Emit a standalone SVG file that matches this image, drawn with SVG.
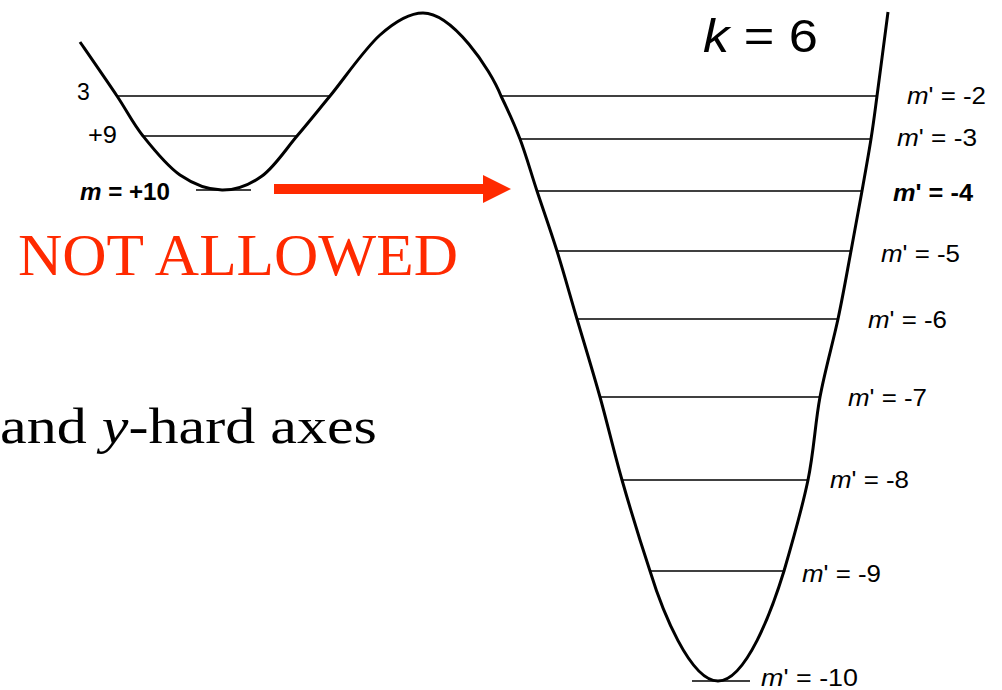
<svg xmlns="http://www.w3.org/2000/svg" width="1002" height="690" viewBox="0 0 1002 690">
<style>
.curve{fill:none;stroke:#000;stroke-width:3;stroke-linejoin:round}
.lvl{stroke:#000;stroke-width:1.5}
.lab{font-family:"Liberation Sans",Arial,sans-serif;font-size:23px;fill:#000}
.b{font-weight:bold}
.red{fill:#FF2A00}
.serif{font-family:"Liberation Serif","Times New Roman",serif}
</style>
<rect width="1002" height="690" fill="#fff"/>
<g id="potential">
<path class="curve" d="M80,42 C86.2,51 106.5,80.3 117,96 C127.5,111.7 132.5,122.8 143,136 C153.5,149.2 166.8,166 180,175 C193.2,184 208.3,189.8 222,190 C235.7,190.2 249.5,185 262,176 C274.5,167 285.7,149.3 297,136 C308.3,122.7 316.2,112.8 330,96 C343.8,79.2 364.5,48.8 380,35 C395.5,21.2 411,13 423,13 C452,13 490,68 501,96 C507.7,109.7 514,123.2 520,139 C526,154.8 530.8,172.3 537,191 C543.2,209.7 550.3,229.7 557,251 C563.7,272.3 569.8,294.7 577,319 C584.2,343.3 592.5,370.2 600,397 C607.5,423.8 613.7,451 622,480 C630.3,509 642.3,547.7 650,571 C662,610 690,681 718,681 C746,681 772,610 784,571 C790.8,547.7 802,509 808,480 C814,451 815,423.8 820,397 C825,370.2 832.8,343.3 838,319 C843.2,294.7 847,272.3 851,251 C855,229.7 858.7,209.7 862,191 C865.3,172.3 868.5,154.8 871,139 C873.5,123.2 874.2,117.2 877,96 C879.8,74.8 886.2,26 888,12"/>
</g>
<g id="levels-left">
<line class="lvl" x1="117" y1="96" x2="330" y2="96"/>
<line class="lvl" x1="143" y1="136" x2="297" y2="136"/>
<line class="lvl" x1="196" y1="190" x2="251" y2="190"/>
</g>
<g id="levels-right">
<line class="lvl" x1="501" y1="96" x2="877" y2="96"/>
<line class="lvl" x1="520" y1="139" x2="871" y2="139"/>
<line class="lvl" x1="537" y1="191" x2="862" y2="191"/>
<line class="lvl" x1="557" y1="251" x2="851" y2="251"/>
<line class="lvl" x1="577" y1="319" x2="838" y2="319"/>
<line class="lvl" x1="600" y1="397" x2="820" y2="397"/>
<line class="lvl" x1="622" y1="480" x2="808" y2="480"/>
<line class="lvl" x1="650" y1="571" x2="784" y2="571"/>
<line class="lvl" x1="692" y1="681" x2="750" y2="681"/>
</g>
<g id="labels-left">
<text class="lab" x="77" y="100">3</text>
<text class="lab" x="88" y="143" textLength="29" lengthAdjust="spacingAndGlyphs">+9</text>
<text class="lab b" x="80" y="200" textLength="90" lengthAdjust="spacingAndGlyphs"><tspan font-style="italic">m</tspan> = +10</text>
</g>
<g id="labels-right">
<text class="lab" x="907" y="104" textLength="79" lengthAdjust="spacingAndGlyphs"><tspan font-style="italic">m</tspan>' = -2</text>
<text class="lab" x="897" y="146" textLength="80" lengthAdjust="spacingAndGlyphs"><tspan font-style="italic">m</tspan>' = -3</text>
<text class="lab b" x="893" y="201" textLength="80" lengthAdjust="spacingAndGlyphs"><tspan font-style="italic">m</tspan>' = -4</text>
<text class="lab" x="881" y="262" textLength="79" lengthAdjust="spacingAndGlyphs"><tspan font-style="italic">m</tspan>' = -5</text>
<text class="lab" x="868" y="328" textLength="79" lengthAdjust="spacingAndGlyphs"><tspan font-style="italic">m</tspan>' = -6</text>
<text class="lab" x="848" y="406" textLength="79" lengthAdjust="spacingAndGlyphs"><tspan font-style="italic">m</tspan>' = -7</text>
<text class="lab" x="830" y="488" textLength="79" lengthAdjust="spacingAndGlyphs"><tspan font-style="italic">m</tspan>' = -8</text>
<text class="lab" x="802" y="582" textLength="79" lengthAdjust="spacingAndGlyphs"><tspan font-style="italic">m</tspan>' = -9</text>
<text class="lab" x="761" y="686" textLength="97" lengthAdjust="spacingAndGlyphs"><tspan font-style="italic">m</tspan>' = -10</text>
</g>
<g id="title">
<text x="703" y="52" font-family="Liberation Sans,Arial,sans-serif" font-size="46" textLength="115" lengthAdjust="spacingAndGlyphs"><tspan font-style="italic">k</tspan> = 6</text>
</g>
<g id="arrow">
<rect class="red" x="274" y="184" width="211" height="10"/>
<polygon class="red" points="483,175 511,189 483,203"/>
</g>
<g id="note">
<text class="serif red" x="18" y="275" font-size="59" textLength="440" lengthAdjust="spacingAndGlyphs">NOT ALLOWED</text>
<text class="serif" x="0" y="443" font-size="51" textLength="377" lengthAdjust="spacingAndGlyphs">and <tspan font-style="italic">y</tspan>-hard axes</text>
</g>
</svg>
